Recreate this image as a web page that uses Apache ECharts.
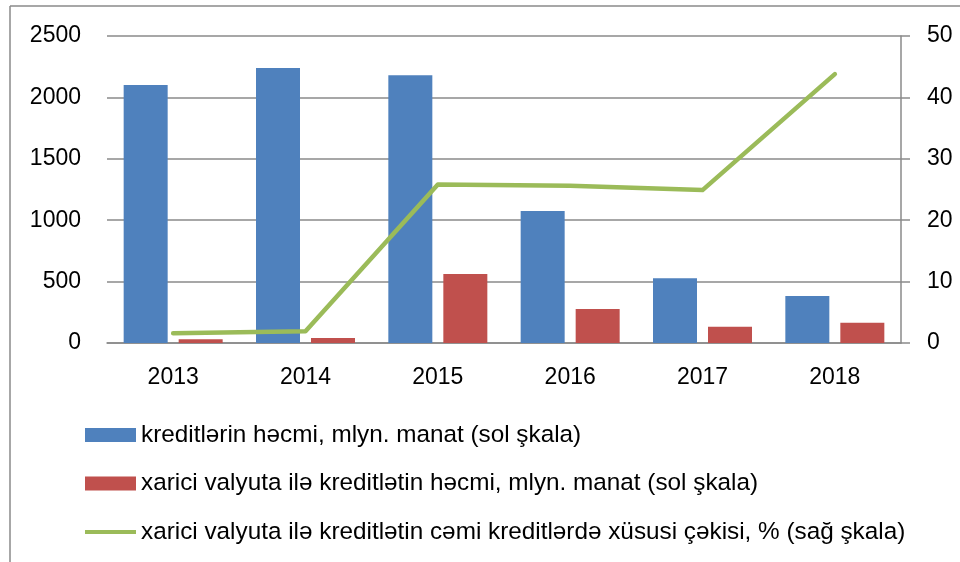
<!DOCTYPE html>
<html>
<head>
<meta charset="utf-8">
<script src="https://cdn.jsdelivr.net/npm/echarts@6/dist/echarts.min.js"></script>
<style>
  html, body { margin: 0; padding: 0; background: #fff; }
  #chart { width: 960px; height: 562px; }
</style>
</head>
<body>
<div id="chart"></div>
<script>
// kateqoriyalar və dəyərlər
const years = ["2013", "2014", "2015", "2016", "2017", "2018"];
const creditVolume = [2100, 2240, 2180, 1075, 528, 382];
const fxCreditVolume = [30, 41, 561, 276, 132, 165];
const fxShare = [1.6, 1.9, 25.8, 25.6, 24.9, 43.8];

const names = [
  "kreditlərin həcmi, mlyn. manat (sol şkala)",
  "xarici valyuta ilə kreditlətin həcmi, mlyn. manat (sol şkala)",
  "xarici valyuta ilə kreditlətin cəmi kreditlərdə xüsusi çəkisi, % (sağ şkala)"
];

const gridColor = "#8a8a8a";
const labelFont = { color: "#000", fontSize: 23, fontFamily: "Liberation Sans" };
const plain = v => String(v);

const myChart = echarts.init(document.getElementById("chart"));
myChart.setOption({
  animation: false,
  graphic: [
    // çərçivə
    { type: "line", shape: { x1: 10, y1: 6, x2: 960, y2: 6 }, style: { stroke: gridColor, lineWidth: 1.5 } },
    { type: "line", shape: { x1: 10, y1: 6, x2: 10, y2: 562 }, style: { stroke: gridColor, lineWidth: 1.5 } }
  ],
  grid: { left: 107, right: 59, top: 36, bottom: 219 },
  legend: {
    orient: "vertical",
    left: 85,
    top: 422,
    padding: 0,
    itemWidth: 51,
    itemHeight: 14,
    itemGap: 22.5,
    textStyle: { color: "#000", fontSize: 24.3, lineHeight: 26, fontFamily: "Liberation Sans" },
    data: [
      { name: names[0], icon: "rect" },
      { name: names[1], icon: "rect" },
      { name: names[2], icon: "path://M0,0 L0,0 M0,5 L51,5 L51,9 L0,9 Z M51,14 L51,14" }
    ]
  },
  xAxis: {
    type: "category",
    data: years,
    axisLine: { lineStyle: { color: gridColor, width: 1.5 } },
    axisTick: { show: false },
    axisLabel: Object.assign({ margin: 23 }, labelFont)
  },
  yAxis: [
    {
      type: "value",
      min: 0,
      max: 2500,
      interval: 500,
      axisLine: { show: false },
      axisTick: { show: false },
      splitLine: { lineStyle: { color: gridColor, width: 1.5 } },
      axisLabel: Object.assign({ margin: 26, formatter: plain }, labelFont)
    },
    {
      type: "value",
      min: 0,
      max: 50,
      interval: 10,
      position: "right",
      axisLine: { show: true, lineStyle: { color: gridColor, width: 1.5 } },
      axisTick: { show: true, length: 9, lineStyle: { color: gridColor, width: 1.5 } },
      splitLine: { show: false },
      axisLabel: Object.assign({ margin: 26, formatter: plain }, labelFont)
    }
  ],
  series: [
    {
      name: names[0],
      type: "bar",
      data: creditVolume,
      barWidth: 44,
      barGap: "25%",
      itemStyle: { color: "#4F81BD" }
    },
    {
      name: names[1],
      type: "bar",
      data: fxCreditVolume,
      barWidth: 44,
      barGap: "25%",
      itemStyle: { color: "#C0504D" }
    },
    {
      name: names[2],
      type: "line",
      yAxisIndex: 1,
      data: fxShare,
      symbol: "none",
      lineStyle: { color: "#9BBB59", width: 4.5, cap: "round", join: "round" },
      itemStyle: { color: "#9BBB59" }
    }
  ]
});
</script>
</body>
</html>
